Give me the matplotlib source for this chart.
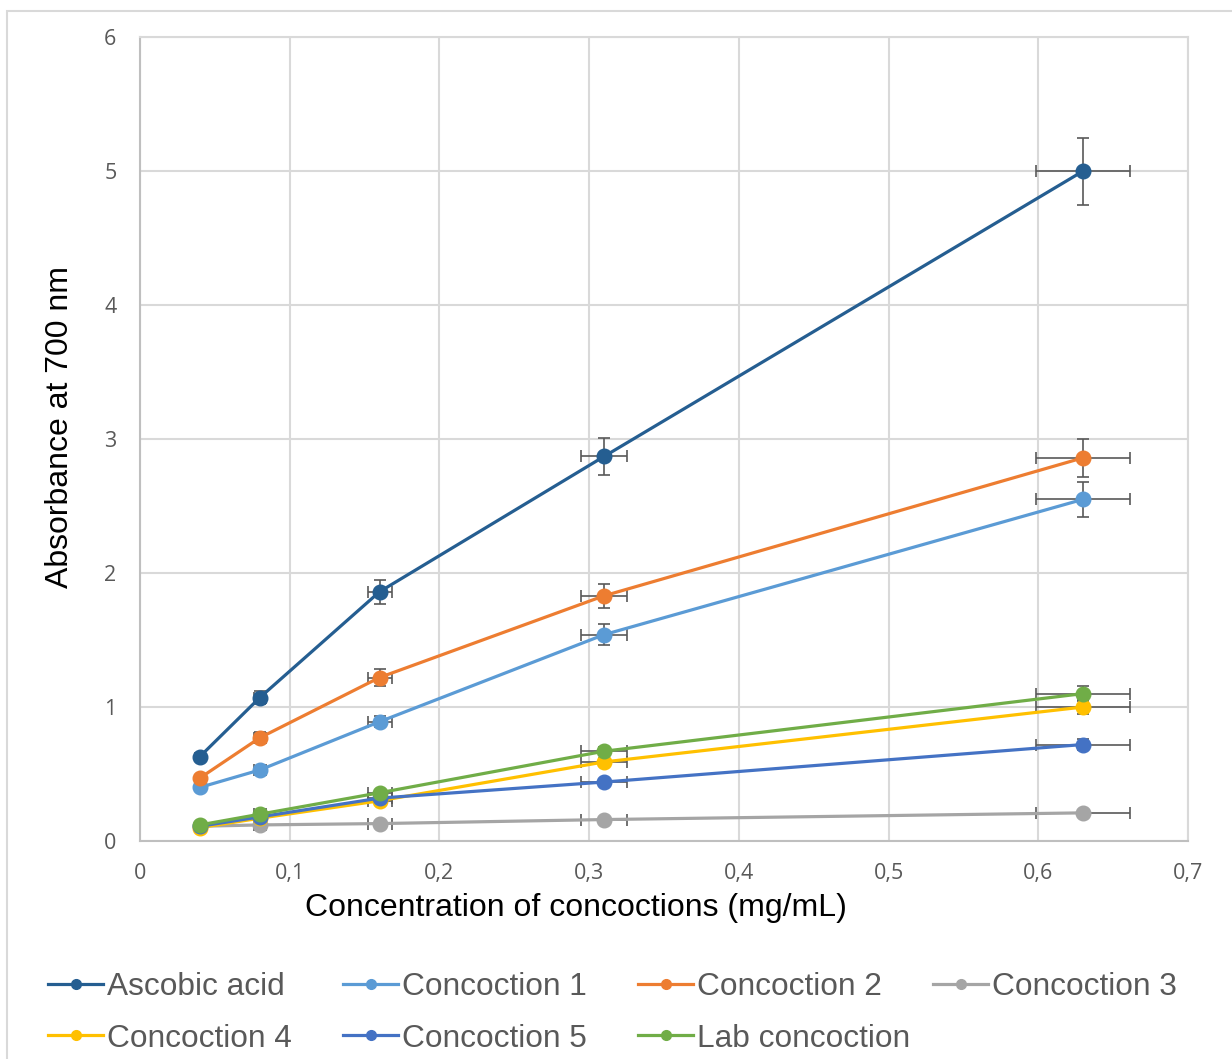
import numpy as np
from matplotlib import pyplot as plt
from matplotlib.lines import Line2D
from matplotlib.patches import Rectangle

# concentrations (mg/mL)
conc = [0.04, 0.08, 0.16, 0.31, 0.63]
conc_err = [0.002, 0.004, 0.008, 0.0155, 0.0315]

names = ["Ascobic acid", "Concoction 1", "Concoction 2", "Concoction 3",
         "Concoction 4", "Concoction 5", "Lab concoction"]
colors = ["#255E91", "#5B9BD5", "#ED7D31", "#A5A5A5", "#FFC000", "#4472C4", "#70AD47"]

ascorbic = [0.63, 1.07, 1.86, 2.87, 5.00]
conc1 = [0.40, 0.53, 0.89, 1.54, 2.55]
conc2 = [0.47, 0.77, 1.22, 1.83, 2.86]
conc3 = [0.11, 0.12, 0.13, 0.16, 0.21]
conc4 = [0.10, 0.17, 0.30, 0.59, 1.00]
conc5 = [0.11, 0.18, 0.32, 0.44, 0.72]
lab = [0.12, 0.20, 0.36, 0.67, 1.10]

ascorbic_err = [0.03, 0.05, 0.09, 0.14, 0.25]
conc1_err = [0.02, 0.03, 0.04, 0.08, 0.13]
conc2_err = [0.02, 0.04, 0.06, 0.09, 0.14]
conc3_err = [0.01, 0.01, 0.01, 0.01, 0.01]
conc4_err = [0.01, 0.01, 0.02, 0.03, 0.05]
conc5_err = [0.01, 0.01, 0.02, 0.02, 0.04]
lab_err = [0.01, 0.01, 0.02, 0.03, 0.055]

series = [ascorbic, conc1, conc2, conc3, conc4, conc5, lab]
errors = [ascorbic_err, conc1_err, conc2_err, conc3_err, conc4_err, conc5_err, lab_err]

xticks = [0, 0.1, 0.2, 0.3, 0.4, 0.5, 0.6, 0.7]
xlabels = ["0", "0,1", "0,2", "0,3", "0,4", "0,5", "0,6", "0,7"]
yticks = [0, 1, 2, 3, 4, 5, 6]

grid_c = "#d9d9d9"
text_c = "#595959"

fig = plt.figure(figsize=(12.32, 10.59), dpi=100)
ax = fig.add_axes([140/1232, 1 - 841/1059, 1048/1232, 804/1059])

for y, e, c in zip(series, errors, colors):
    ax.errorbar(conc, y, yerr=e, xerr=conc_err, fmt="none", ecolor=text_c,
                elinewidth=1.2, capsize=4, capthick=1.2, zorder=2)
for y, c, n in zip(series, colors, names):
    ax.plot(conc, y, color=c, lw=2.3, marker="o", ms=10.5, label=n, zorder=3)

ax.set_xlim(0, 0.7)
ax.set_ylim(0, 6)
ax.set_xticks(xticks)
ax.set_xticklabels(xlabels)
ax.set_yticks(yticks)
ax.grid(True, color=grid_c, lw=1.5, zorder=0)
ax.set_axisbelow(True)
for s in ax.spines.values():
    s.set_color(grid_c)
    s.set_linewidth(1.5)
ax.spines["left"].set_color("#bfbfbf")
ax.spines["bottom"].set_color("#bfbfbf")
ax.tick_params(length=0, colors=text_c, labelsize=15.5)
ax.tick_params(axis="x", pad=16)
ax.tick_params(axis="y", pad=17)
for lbl in ax.get_xticklabels() + ax.get_yticklabels():
    lbl.set_family("Open Sans")

# axis titles placed in figure pixels
fig.text(576/1232, 1 - 908/1059, "Concentration of concoctions (mg/mL)", fontsize=23,
         family="Liberation Sans", ha="center", va="center")
fig.text(60/1232, 1 - 427/1059, "Absorbance at 700 nm", fontsize=23,
         family="Liberation Sans", ha="center", va="center", rotation=90)

# legend: 4 columns, 2 rows, placed one column at a time
col_x = [48, 343, 638, 933]
cols = [[0, 4], [1, 5], [2, 6], [3]]
for cx, idx in zip(col_x, cols):
    handles = [Line2D([], [], color=colors[i], lw=2.3, marker="o", ms=7) for i in idx]
    leg = fig.legend(handles, [names[i] for i in idx], loc="upper left",
                     bbox_to_anchor=(cx/1232, 1 - 972/1059), frameon=False,
                     prop={"family": "Liberation Sans", "size": 22.8},
                     handlelength=1.75, handletextpad=0.12, labelspacing=0.68,
                     borderpad=0, borderaxespad=0)
    for t in leg.get_texts():
        t.set_color(text_c)

fig.add_artist(Rectangle((7/1232, -0.02), 1.05, 1 - 11/1059 + 0.02,
                         transform=fig.transFigure, fill=False,
                         edgecolor=grid_c, lw=1.5))

fig.savefig("out.png", dpi=100, facecolor="white")
